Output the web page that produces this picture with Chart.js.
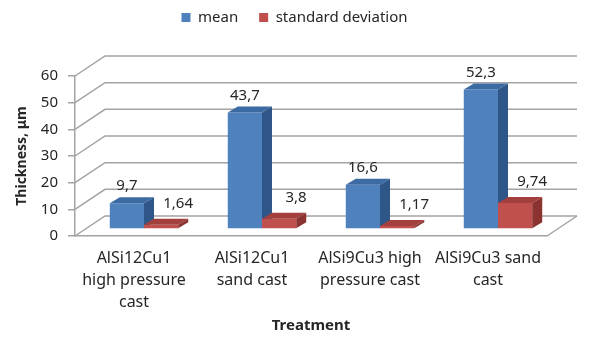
<!DOCTYPE html>
<html>
<head>
<meta charset="utf-8">
<script src="https://cdn.jsdelivr.net/npm/chart.js@4.4.1/dist/chart.umd.min.js"></script>
<style>
  html, body { margin: 0; padding: 0; background: #fff; }
</style>
</head>
<body>
<canvas id="thicknessChart" width="597" height="344"></canvas>
<script>
// Data
const categories = [
    ['AlSi12Cu1', 'high pressure', 'cast'],
    ['AlSi12Cu1', 'sand cast'],
    ['AlSi9Cu3 high', 'pressure cast'],
    ['AlSi9Cu3 sand', 'cast']
];
const meanValues = [9.7, 43.7, 16.6, 52.3];
const sdValues = [1.64, 3.8, 1.17, 9.74];
const yMin = 0;
const yMax = 60;
const yStep = 10;

// 3D look: full depth of the box, where the bars sit in it, how deep they are
const depth = { dx: 30, dy: -20 };
const barShift = { dx: 10, dy: -7 };
const barDepth = { dx: 10, dy: -6 };
const gridColor = '#a3a3a3';
const textColor = '#262626';
const fontFamily = '"Noto Sans", "DejaVu Sans", sans-serif';

function drawBarFaces(ctx, ds, bar) {
    const { x, y, base, width } = bar.getProps(['x', 'y', 'base', 'width'], true);
    const l = x - width / 2;
    const r = x + width / 2;

    // top face
    ctx.fillStyle = ds.topColor;
    ctx.beginPath();
    ctx.moveTo(l, y);
    ctx.lineTo(r, y);
    ctx.lineTo(r + barDepth.dx, y + barDepth.dy);
    ctx.lineTo(l + barDepth.dx, y + barDepth.dy);
    ctx.closePath();
    ctx.fill();

    // right face
    ctx.fillStyle = ds.sideColor;
    ctx.beginPath();
    ctx.moveTo(r, y);
    ctx.lineTo(r + barDepth.dx, y + barDepth.dy);
    ctx.lineTo(r + barDepth.dx, base + barDepth.dy);
    ctx.lineTo(r, base);
    ctx.closePath();
    ctx.fill();
}

const wallPlugin = {
    id: 'wall3d',
    afterInit(chart) {
        // keep a fixed band above the plot for the legend
        const legend = chart.legend;
        const fit = legend.fit;
        legend.fit = function() {
            fit.call(this);
            this.height = 87;
        };
    },
    beforeDatasetsDraw(chart) {
        // back wall, side wall and floor lines
        const { ctx, chartArea: area, scales: { y } } = chart;
        ctx.save();
        ctx.strokeStyle = gridColor;
        ctx.lineWidth = 1.5;
        y.ticks.forEach(tick => {
            const py = y.getPixelForValue(tick.value);
            ctx.beginPath();
            ctx.moveTo(area.left, py);
            ctx.lineTo(area.left + depth.dx, py + depth.dy);
            ctx.lineTo(area.right + depth.dx, py + depth.dy);
            ctx.stroke();
        });
        const floorY = y.getPixelForValue(yMin);
        ctx.beginPath();
        ctx.moveTo(area.right, floorY);
        ctx.lineTo(area.right + depth.dx, floorY + depth.dy);
        ctx.stroke();
        ctx.restore();
    },
    // the bars are drawn below, left series first, so the right one covers its side face
    beforeDatasetDraw() {
        return false;
    },
    afterDatasetsDraw(chart) {
        const ctx = chart.ctx;
        chart.data.datasets.forEach((ds, index) => {
            const meta = chart.getDatasetMeta(index);
            ctx.save();
            ctx.translate(barShift.dx, barShift.dy);
            meta.data.forEach((bar, i) => {
                bar.draw(ctx);
                drawBarFaces(ctx, ds, bar);
                // value label, decimal comma
                ctx.fillStyle = textColor;
                ctx.font = '15px ' + fontFamily;
                ctx.textAlign = 'center';
                ctx.textBaseline = 'middle';
                ctx.fillText(String(ds.data[i]).replace('.', ','), bar.x + ds.labelDx, bar.y + ds.labelDy);
            });
            ctx.restore();
        });
    }
};

const ctx = document.getElementById('thicknessChart');
new Chart(ctx, {
    type: 'bar',
    data: {
        labels: categories,
        datasets: [{
            label: 'mean',
            data: meanValues,
            backgroundColor: '#4f81bd',
            topColor: '#3c6aa3',
            sideColor: '#2f5688',
            labelDx: 0,
            labelDy: -17,
            borderWidth: 0
        }, {
            label: 'standard deviation',
            data: sdValues,
            backgroundColor: '#c0504d',
            topColor: '#a3403d',
            sideColor: '#8b3331',
            labelDx: 17,
            labelDy: -21,
            borderWidth: 0
        }]
    },
    options: {
        responsive: false,
        animation: false,
        events: [],
        layout: {
            padding: { top: -11, right: 8, bottom: 0, left: 0 }
        },
        datasets: {
            bar: {
                categoryPercentage: 0.58,
                barPercentage: 1.0
            }
        },
        scales: {
            x: {
                afterFit: function(scale) { scale.height = 108; },
                grid: { display: false, drawTicks: false },
                border: { display: true, color: gridColor, width: 1.5 },
                ticks: {
                    padding: 12,
                    color: textColor,
                    maxRotation: 0,
                    autoSkip: false,
                    font: { family: fontFamily, size: 16, lineHeight: 1.35 }
                },
                title: {
                    display: true,
                    text: 'Treatment',
                    color: textColor,
                    padding: { top: 0, bottom: 9 },
                    font: { family: fontFamily, size: 15, weight: 'bold' }
                }
            },
            y: {
                min: yMin,
                max: yMax,
                afterFit: function(scale) { scale.width = 75; },
                grid: {
                    drawOnChartArea: false,
                    drawTicks: true,
                    tickLength: 7,
                    color: gridColor,
                    lineWidth: 1.5
                },
                border: { display: true, color: gridColor, width: 1.5 },
                ticks: {
                    stepSize: yStep,
                    padding: 10,
                    color: textColor,
                    font: { family: fontFamily, size: 15 }
                },
                title: {
                    display: true,
                    text: 'Thickness, μm',
                    color: textColor,
                    padding: { top: 14, bottom: 0 },
                    font: { family: fontFamily, size: 14, weight: 'bold' }
                }
            },
            // empty strip on the right, room for the depth of the box
            depthRoom: {
                position: 'right',
                type: 'linear',
                afterFit: function(scale) { scale.width = 42; },
                grid: { display: false },
                border: { display: false },
                ticks: { display: false }
            }
        },
        plugins: {
            legend: {
                position: 'top',
                labels: {
                    boxWidth: 9,
                    boxHeight: 9,
                    padding: 21,
                    color: textColor,
                    font: { family: fontFamily, size: 15 }
                }
            },
            tooltip: { enabled: false }
        }
    },
    plugins: [wallPlugin]
});
</script>
</body>
</html>
